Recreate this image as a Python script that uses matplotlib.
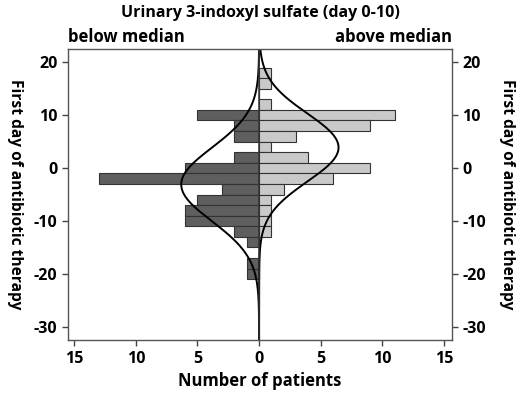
import numpy as np
import matplotlib
matplotlib.use("Agg")
import matplotlib.pyplot as plt

plt.rcParams['font.family'] = ['Open Sans', 'DejaVu Sans']
plt.rcParams['font.weight'] = 'bold'
plt.rcParams['axes.unicode_minus'] = False

# bin centres (first day of antibiotic therapy), bins are 2 days wide
day_bins = [18, 16, 14, 12, 10, 8, 6, 4, 2, 0, -2, -4, -6, -8, -10, -12, -14, -16, -18, -20]
below_median = [0, 0, 0, 0, 5, 2, 2, 0, 2, 6, 13, 3, 5, 6, 6, 2, 1, 0, 1, 1]
above_median = [1, 1, 0, 1, 11, 9, 3, 1, 4, 9, 6, 2, 1, 1, 1, 1, 0, 0, 0, 0]
bin_width = 2

x_ticks = [-15, -10, -5, 0, 5, 10, 15]
x_tick_labels = ['15', '10', '5', '0', '5', '10', '15']
y_ticks = [20, 10, 0, -10, -20, -30]

dark = '#5f5f5f'
light = '#c9c9c9'


def normal_fit(centres, counts, grid):
    c = np.array(centres, dtype=float)
    n = np.array(counts, dtype=float)
    total = n.sum()
    mu = (c * n).sum() / total
    sd = np.sqrt((n * (c - mu) ** 2).sum() / total)
    return total * bin_width * np.exp(-0.5 * ((grid - mu) / sd) ** 2) / (sd * np.sqrt(2 * np.pi))


fig = plt.figure(figsize=(5.2, 3.95), dpi=100)
ax = fig.add_axes([0.1308, 0.139, 0.7385, 0.737])

ax.barh(day_bins, [-v for v in below_median], height=bin_width, color=dark,
        edgecolor='#333333', linewidth=0.8)
ax.barh(day_bins, above_median, height=bin_width, color=light,
        edgecolor='#333333', linewidth=0.8)

ylo, yhi = -32.5, 22.5
grid = np.linspace(ylo, yhi, 400)
ax.plot(-normal_fit(day_bins, below_median, grid), grid, color='black', lw=1.4)
ax.plot(normal_fit(day_bins, above_median, grid), grid, color='black', lw=1.4)
ax.axvline(0, color='#333333', lw=1.1)

ax.set_xlim(-15.5, 15.65)
ax.set_ylim(ylo, yhi)
ax.set_xticks(x_ticks)
ax.set_xticklabels(x_tick_labels)
ax.set_yticks(y_ticks)
ax.tick_params(axis='both', labelsize=11.5, width=1, length=4, color='#444444')
ax.tick_params(axis='y', left=True, right=True, labelleft=True, labelright=True)
for s in ax.spines.values():
    s.set_color('#555555')
    s.set_linewidth(1)

ax.set_xlabel('Number of patients', fontsize=12, fontweight='bold', labelpad=4)
mid = 0.139 + 0.737 / 2
fig.text(0.028, mid, 'First day of antibiotic therapy', fontsize=11.2,
         fontweight='bold', rotation=-90, ha='center', va='center')
fig.text(0.975, mid, 'First day of antibiotic therapy', fontsize=11.2,
         fontweight='bold', rotation=-90, ha='center', va='center')

ax.text(0, 1.01, 'below median', transform=ax.transAxes, fontsize=12,
        fontweight='bold', ha='left', va='bottom')
ax.text(1, 1.01, 'above median', transform=ax.transAxes, fontsize=12,
        fontweight='bold', ha='right', va='bottom')
fig.text(0.5, 0.968, 'Urinary 3-indoxyl sulfate (day 0-10)', fontsize=11.5,
         fontweight='bold', ha='center', va='center')

fig.savefig('out.png', dpi=100)
